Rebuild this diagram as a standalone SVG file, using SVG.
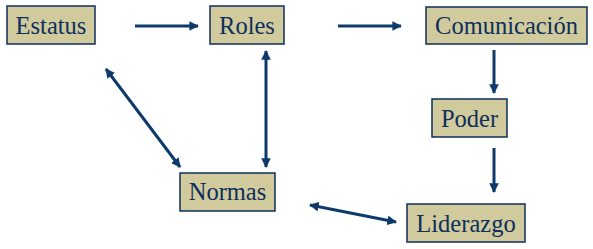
<svg xmlns="http://www.w3.org/2000/svg" width="593" height="249" viewBox="0 0 593 249">
<style>
.box{fill:#d0ca9c;stroke:#0d2f5e;stroke-width:1.5}
.lbl{font-family:'Liberation Serif','Times New Roman','DejaVu Serif',serif;font-size:24.5px;fill:#0d2f5e;text-anchor:middle}
.con{stroke:#0d3a6b;stroke-width:3;fill:none}
</style>
<defs>
<marker id="ah" viewBox="0 0 10 10" refX="9" refY="5" markerWidth="3.2" markerHeight="3.2" orient="auto-start-reverse" markerUnits="strokeWidth">
<path d="M0,0 L10,5 L0,10 z" fill="#0d3a6b"/>
</marker>
</defs>
<rect width="593" height="249" fill="#ffffff"/>
<g id="connectors">
<line class="con" x1="135" y1="26" x2="198" y2="26" marker-end="url(#ah)"/>
<line class="con" x1="338" y1="26" x2="401" y2="26" marker-end="url(#ah)"/>
<line class="con" x1="494" y1="50" x2="494" y2="93" marker-end="url(#ah)"/>
<line class="con" x1="494" y1="148" x2="494" y2="192" marker-end="url(#ah)"/>
<line class="con" x1="106" y1="69" x2="180" y2="167" marker-start="url(#ah)" marker-end="url(#ah)"/>
<line class="con" x1="266" y1="51" x2="266" y2="167" marker-start="url(#ah)" marker-end="url(#ah)"/>
<line class="con" x1="310" y1="205" x2="396" y2="222" marker-start="url(#ah)" marker-end="url(#ah)"/>
</g>
<g id="estatus">
<rect class="box" x="7" y="6" width="88" height="38"/>
<text class="lbl" x="51" y="34" font-family="Liberation Serif, serif">Estatus</text>
</g>
<g id="roles">
<rect class="box" x="210" y="6" width="74" height="38"/>
<text class="lbl" x="247" y="34" font-family="Liberation Serif, serif">Roles</text>
</g>
<g id="comunicacion">
<rect class="box" x="426" y="7" width="161" height="37"/>
<text class="lbl" x="506.5" y="34" font-family="Liberation Serif, serif">Comunicación</text>
</g>
<g id="poder">
<rect class="box" x="432" y="99" width="75" height="38"/>
<text class="lbl" x="469.5" y="127" font-family="Liberation Serif, serif">Poder</text>
</g>
<g id="normas">
<rect class="box" x="180" y="173" width="95" height="38"/>
<text class="lbl" x="227.5" y="200" font-family="Liberation Serif, serif">Normas</text>
</g>
<g id="liderazgo">
<rect class="box" x="407" y="204" width="118" height="38"/>
<text class="lbl" x="466" y="232" font-family="Liberation Serif, serif">Liderazgo</text>
</g>
</svg>
